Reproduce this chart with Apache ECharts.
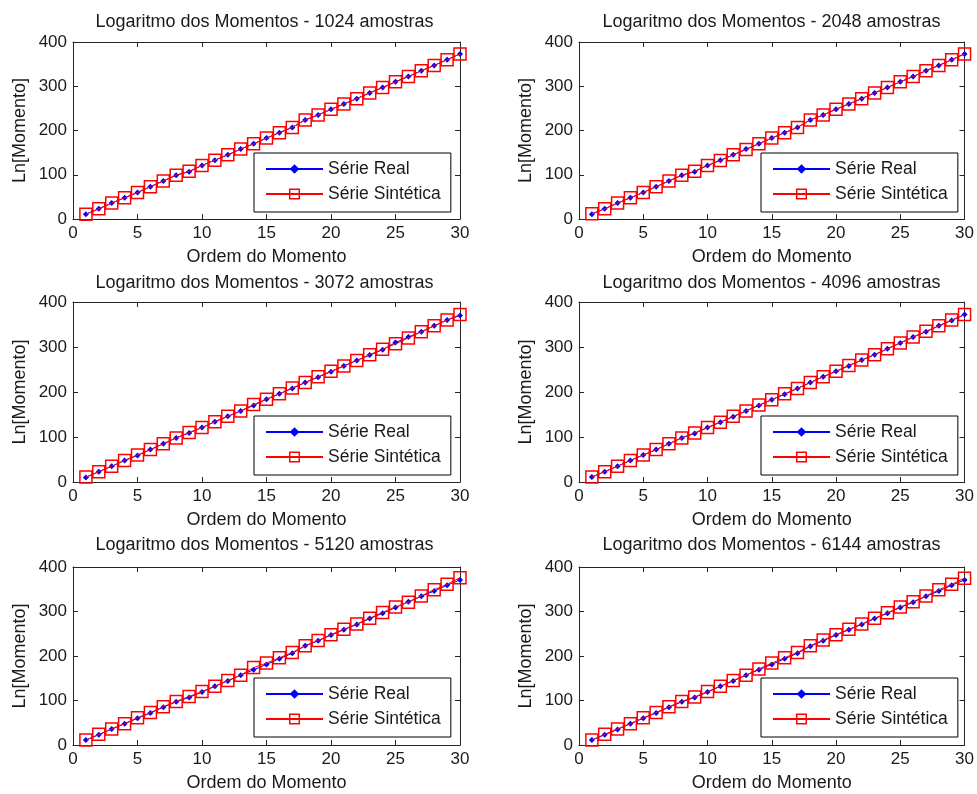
<!DOCTYPE html>
<html>
<head>
<meta charset="utf-8">
<script src="https://cdn.jsdelivr.net/npm/echarts@6/dist/echarts.min.js"></script>
<style>html,body{margin:0;padding:0;background:#fff}#c{width:977px;height:794px}</style>
</head>
<body>
<div id="c"></div>
<script>
const orders = [1,2,3,4,5,6,7,8,9,10,11,12,13,14,15,16,17,18,19,20,21,22,23,24,25,26,27,28,29,30];
const sampleSizes = [1024, 2048, 3072, 4096, 5120, 6144];
const xTicks = [0,5,10,15,20,25,30];
const yTicks = [0,100,200,300,400];

const real1024 = [11,23,36,48,60,73,86,99,107,121,133,145,158,170,183,195,207,224,235,248,260,272,285,297,310,322,335,347,360,373];
const synt1024 = [11,23,36,48,60,73,86,99,108,121,133,145,158,170,183,195,207,224,235,248,260,272,285,297,310,322,335,347,360,373];
const real2048 = [11,23,36,48,60,73,86,99,107,121,133,145,158,170,183,195,207,224,235,248,260,272,285,297,310,322,335,347,360,373];
const synt2048 = [12,23,36,48,60,73,86,99,108,121,132,145,157,170,183,195,207,224,235,248,260,272,285,297,310,322,335,347,360,373];
const real3072 = [10,23,35,48,59,72,85,98,109,121,134,146,158,170,184,196,208,221,233,245,258,270,282,294,310,322,334,347,360,370];
const synt3072 = [11,23,35,48,60,72,85,98,110,121,134,146,158,172,184,196,209,221,234,246,258,270,283,295,307,320,334,347,360,372];
const real4096 = [11,23,35,48,60,72,85,98,108,121,133,145,158,170,183,195,208,221,234,246,258,271,283,296,309,322,334,347,359,372];
const synt4096 = [11,23,35,48,60,72,85,98,109,121,133,146,158,171,183,196,208,221,234,246,259,271,283,296,309,322,335,347,360,372];
const real5120 = [11,23,36,48,60,72,85,97,107,119,132,144,157,169,181,194,206,223,234,247,259,271,284,296,309,322,334,346,359,371];
const synt5120 = [11,24,36,48,61,73,86,98,109,120,132,145,157,174,184,196,208,223,235,248,260,272,285,298,310,321,335,349,361,376];
const real6144 = [11,23,35,48,60,72,85,97,107,119,132,144,157,169,181,194,206,222,234,247,259,271,284,296,309,321,334,346,359,371];
const synt6144 = [11,24,36,48,61,73,86,98,108,120,132,145,157,171,184,196,208,223,236,248,260,272,285,297,310,322,335,349,361,375];

const realSets = [real1024, real2048, real3072, real4096, real5120, real6144];
const syntSets = [synt1024, synt2048, synt3072, synt4096, synt5120, synt6144];

const FONT = '"Liberation Sans", Arial, Helvetica, sans-serif';
const TXT = '#1a1a1a';
const AX = '#262626';

const colLeft = [73, 579];
const colWidth = [387, 389];
const rowTop = [42, 302, 567];
const rowHeight = [177, 180, 178];
const titleMid = [22, 283, 545];
const legendTop = [153, 416, 678];
const legendLeft = [254, 761];

const grids = [], xAxes = [], yAxes = [], series = [], graphics = [], legends = [];

sampleSizes.forEach((n, i) => {
  const r = Math.floor(i / 2), c = i % 2;
  grids.push({left: colLeft[c], top: rowTop[r], width: colWidth[c], height: rowHeight[r], containLabel: false});
  graphics.push({
    type: 'text', x: colLeft[c] + colWidth[c] / 2 - 2, y: titleMid[r],
    style: {text: 'Logaritmo dos Momentos - ' + n + ' amostras', fill: TXT,
      font: '18px ' + FONT, textAlign: 'center', textVerticalAlign: 'middle'}
  });
  const axLine = {show: true, onZero: false, lineStyle: {color: AX, width: 1}};
  const tick = {show: true, inside: true, length: 5, lineStyle: {color: AX, width: 1}};
  xAxes.push({
    gridIndex: i, type: 'value', min: 0, max: 30, interval: 5, position: 'bottom',
    axisLine: axLine, axisTick: tick, splitLine: {show: false},
    axisLabel: {fontFamily: FONT, fontSize: 17, color: TXT, margin: 6,
      formatter: v => xTicks.indexOf(v) >= 0 ? String(v) : ''},
    name: 'Ordem do Momento', nameLocation: 'middle', nameGap: 29,
    nameTextStyle: {fontFamily: FONT, fontSize: 18, color: TXT}
  });
  xAxes.push({
    gridIndex: i, type: 'value', min: 0, max: 30, interval: 5, position: 'top',
    axisLine: axLine, axisTick: tick, splitLine: {show: false}, axisLabel: {show: false}
  });
  yAxes.push({
    gridIndex: i, type: 'value', min: 0, max: 400, interval: 100, position: 'left',
    axisLine: axLine, axisTick: tick, splitLine: {show: false},
    axisLabel: {fontFamily: FONT, fontSize: 17, color: TXT, margin: 6,
      formatter: v => yTicks.indexOf(v) >= 0 ? String(v) : ''},
    name: 'Ln[Momento]', nameLocation: 'middle', nameGap: 44,
    nameTextStyle: {fontFamily: FONT, fontSize: 18, color: TXT}
  });
  yAxes.push({
    gridIndex: i, type: 'value', min: 0, max: 400, interval: 100, position: 'right',
    axisLine: axLine, axisTick: tick, splitLine: {show: false}, axisLabel: {show: false}
  });
  const realName = 'Série Real', syntName = 'Série Sintética';
  series.push({
    name: realName, type: 'line', xAxisIndex: 2 * i, yAxisIndex: 2 * i,
    data: orders.map((x, k) => [x, realSets[i][k]]),
    symbol: 'diamond', symbolSize: 6, showSymbol: true,
    lineStyle: {color: '#0000ff', width: 1}, itemStyle: {color: '#0000ff'},
    animation: false, z: 2
  });
  series.push({
    name: syntName, type: 'line', xAxisIndex: 2 * i, yAxisIndex: 2 * i,
    data: orders.map((x, k) => [x, syntSets[i][k]]),
    symbol: 'rect', symbolSize: 12, showSymbol: true,
    lineStyle: {color: '#ff0000', width: 1},
    itemStyle: {color: 'rgba(0,0,0,0)', borderColor: '#ff0000', borderWidth: 1.5},
    animation: false, z: 3
  });
  legends.push({
    data: [
      {name: realName, itemStyle: {color: '#0000ff'}},
      {name: syntName, itemStyle: {color: 'rgba(0,0,0,0)', borderColor: '#ff0000', borderWidth: 1.5}}
    ],
    orient: 'vertical', left: legendLeft[c], top: legendTop[r],
    itemWidth: 57, itemHeight: 12, itemGap: 7,
    padding: [7, 10, 9, 11],
    borderColor: '#000', borderWidth: 1, backgroundColor: '#fff',
    textStyle: {fontFamily: FONT, fontSize: 17.5, color: TXT, lineHeight: 18},
    selectedMode: false
  });
});

const chart = echarts.init(document.getElementById('c'), null, {renderer: 'canvas'});
chart.setOption({
  animation: false,
  backgroundColor: '#fff',
  graphic: graphics,
  grid: grids,
  xAxis: xAxes,
  yAxis: yAxes,
  legend: legends,
  series: series
});
</script>
</body>
</html>
